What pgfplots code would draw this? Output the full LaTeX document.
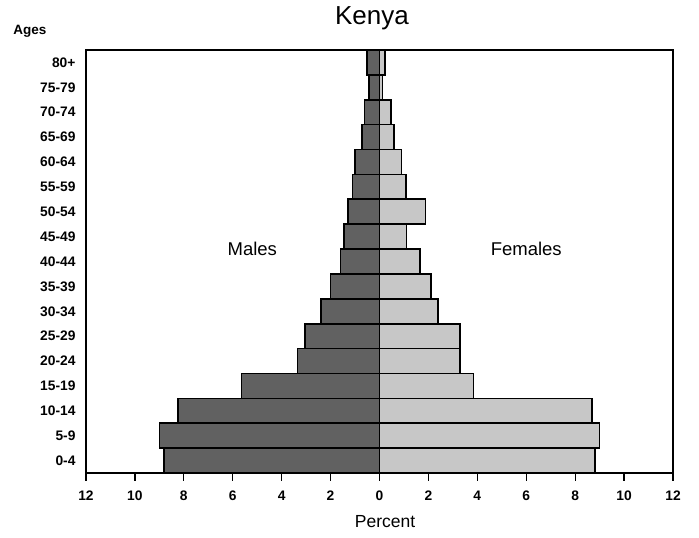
\documentclass[border=0pt]{standalone}
\usepackage{pgfplots}
\pgfplotsset{compat=1.18}
\usepackage{fontspec}
\setmainfont{Liberation Sans}
\definecolor{malefill}{gray}{0.38}
\definecolor{femalefill}{gray}{0.78}
\begin{document}
\begin{tikzpicture}
\begin{axis}[
  at={(0,0)}, anchor=south west,
  scale only axis, width=587pt, height=423pt,
  xbar, bar shift=0pt, bar width=1,
  xmin=-12, xmax=12, ymin=-0.5, ymax=16.5,
  xtick={-12,-10,...,12},
  xticklabels={12,10,8,6,4,2,0,2,4,6,8,10,12},
  ytick={0,...,16},
  yticklabels={0-4,5-9,10-14,15-19,20-24,25-29,30-34,35-39,40-44,45-49,50-54,55-59,60-64,65-69,70-74,75-79,80+},
  xtick pos=left,
  ytick style={draw=none},
  tick align=outside,
  major tick length=8pt,
  xtick style={line width=1.3pt, black},
  axis line style={line width=1.6pt},
  tick label style={font=\fontsize{13.8}{15}\selectfont\bfseries},
  xticklabel style={yshift=-6pt},
  yticklabel style={xshift=1pt},
  clip=false,
]
\addplot[draw=black, line width=1.6pt, fill=malefill] coordinates {
(-8.8,0) (-9.0,1) (-8.25,2) (-5.65,3) (-3.35,4) (-3.05,5) (-2.4,6) (-2.0,7)
(-1.6,8) (-1.45,9) (-1.3,10) (-1.1,11) (-1.0,12) (-0.72,13) (-0.62,14) (-0.42,15) (-0.5,16)};
\addplot[draw=black, line width=1.6pt, fill=femalefill] coordinates {
(8.8,0) (9.0,1) (8.7,2) (3.85,3) (3.3,4) (3.3,5) (2.4,6) (2.1,7)
(1.65,8) (1.1,9) (1.88,10) (1.08,11) (0.9,12) (0.6,13) (0.47,14) (0.13,15) (0.22,16)};
\node[font=\fontsize{18.5}{20}\selectfont] at (axis cs:-5.2,8.5) {Males};
\node[font=\fontsize{18.5}{20}\selectfont] at (axis cs:6.0,8.5) {Females};
\end{axis}
\node[font=\fontsize{26}{28}\selectfont] at (286pt,455pt) {Kenya};
\node[font=\fontsize{13.5}{15}\selectfont\bfseries] at (-56pt,442pt) {Ages};
\node[font=\fontsize{17.5}{19}\selectfont] at (299pt,-49pt) {Percent};
\pgfresetboundingbox
\path[use as bounding box] (-86pt,-65pt) rectangle (613pt,473pt);
\end{tikzpicture}
\end{document}
